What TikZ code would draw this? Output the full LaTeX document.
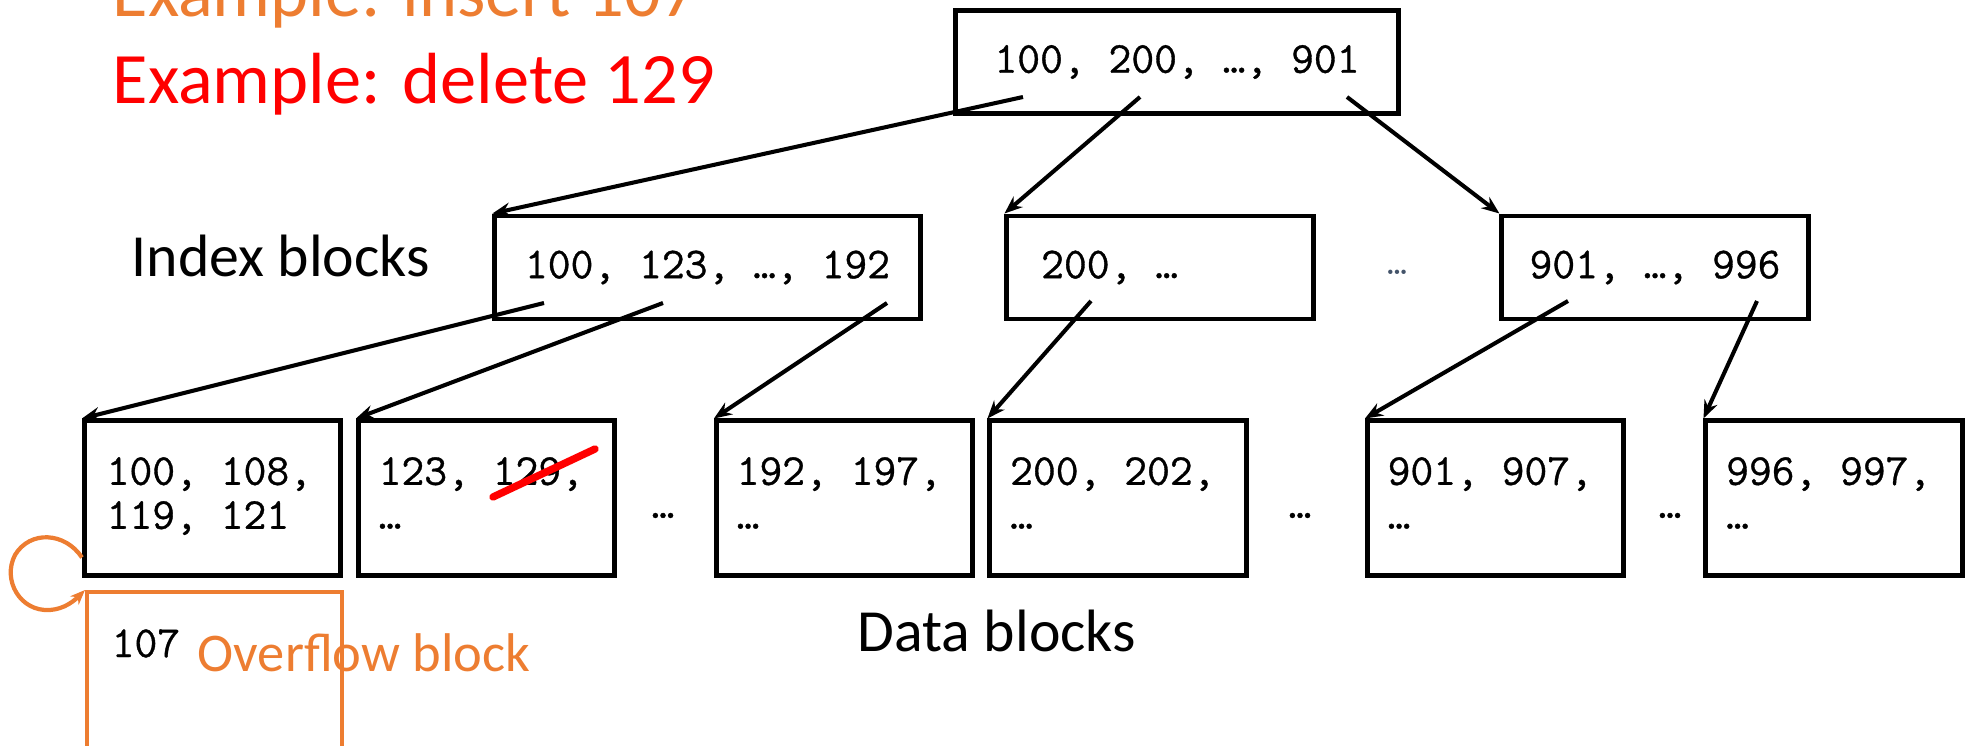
\documentclass[tikz,border=0pt]{standalone}
\usepackage{fontspec}
\setmainfont{Carlito}
\newfontfamily\keyfont[FakeBold=0.8]{Latin Modern Mono}
\usetikzlibrary{arrows.meta,calc}
\definecolor{ovorange}{HTML}{ED7D31}
\definecolor{dotgray}{HTML}{44546A}
\newcommand\dfont{\keyfont\fontsize{12.6}{12.5}\selectfont}
\newcommand\titlefont{\rmfamily\fontsize{20.6}{24}\selectfont}
\newcommand\labelfont{\rmfamily\fontsize{17}{20}\selectfont}
\begin{document}
\begin{tikzpicture}[x=0.01cm,y=-0.01cm,
  blk/.style={draw, line width=1.4pt, inner sep=0pt, font=\dfont},
  ibox/.style={blk, minimum height=1.03cm},
  dbox/.style={blk, minimum width=2.56cm, minimum height=1.54cm},
  dtext/.style={font=\dfont, align=left, inner sep=0pt, anchor=west},
  dots/.style={font=\dfont, inner sep=0pt, anchor=base},
  link/.style={line width=1.15pt, -{Stealth[length=0.18cm,width=0.14cm,inset=0.06cm]}},
  lbl/.style={anchor=base west, inner sep=0pt}]
\useasboundingbox (0,0) rectangle (1969,746);
\clip (0,0) rectangle (1969,746);

% titles
\node[lbl, text=ovorange, font=\titlefont] (ex1) at (112,17) {Example: insert 107};
\node[lbl, text=red, font=\titlefont] (ex2) at (112,104) {Example: delete 129};

% root
\node[ibox, minimum width=4.42cm] (root) at (1177,62) {100, 200, …, 901};

% index blocks
\node[lbl, font=\labelfont] (ilabel) at (131,277) {Index blocks};
\node[ibox, minimum width=4.25cm] (i1) at (707.5,267.5) {100, 123, …, 192};
\node[ibox, minimum width=3.06cm] (i2) at (1160,267.5) {};
\node[dtext] (i2t) at ($(i2.west)+(36,0)$) {200, …};
\node[dots, text=dotgray, font=\ttfamily\fontsize{11}{11}\selectfont] (idots) at (1397,275) {…};
\node[ibox, minimum width=3.06cm] (i3) at (1655,267.5) {901, …, 996};

% data blocks
\node[dbox] (d1) at (212.5,498) {};
\node[dbox] (d2) at (486.5,498) {};
\node[dbox] (d3) at (844.5,498) {};
\node[dbox] (d4) at (1118,498) {};
\node[dbox] (d5) at (1495.5,498) {};
\node[dbox] (d6) at (1834,498) {};
\node[dtext] (d1t) at ($(d1.west)+(24,0)$) {100, 108,\strut\\119, 121\strut};
\node[dtext] (d2t) at ($(d2.west)+(22,0)$) {123, 129,\strut\\…\strut};
\node[dtext] (d3t) at ($(d3.west)+(22,0)$) {192, 197,\strut\\…\strut};
\node[dtext] (d4t) at ($(d4.west)+(22,0)$) {200, 202,\strut\\…\strut};
\node[dtext] (d5t) at ($(d5.west)+(22,0)$) {901, 907,\strut\\…\strut};
\node[dtext] (d6t) at ($(d6.west)+(22,0)$) {996, 997,\strut\\…\strut};
\node[dots] (dd1) at (663,518) {…};
\node[dots] (dd2) at (1300,518) {…};
\node[dots] (dd3) at (1670,518) {…};
\node[lbl, font=\labelfont] (dlabel) at (857,652) {Data blocks};

% strike-through of 129
\coordinate (s1) at (493,497);
\coordinate (s2) at (595,449);
\draw[red, line width=2.1pt, line cap=round] (s1) -- (s2);

% overflow block
\node[draw=ovorange, line width=1.2pt, minimum width=2.55cm, minimum height=1.75cm, inner sep=0pt, anchor=north west] (ov) at (85,590) {};
\node[lbl, font=\dfont] (ovt) at (111,657) {107};
\node[lbl, text=ovorange, font=\fontsize{15.5}{18}\selectfont] (ovl) at (197,672) {Overflow block};
\coordinate (lp) at ($(d1.south west)+(0,-20)$);
\draw[ovorange, line width=1.2pt, -{Stealth[length=0.15cm,width=0.12cm,inset=0.05cm]}]
  (lp) .. controls (65,532) and (30,530) .. (15,555)
       .. controls (2,580) and (20,612) .. (50,610)
       .. controls (65,609) and (75,600) .. (ov.north west);

% pointers
\coordinate (r1) at (1023,97);
\coordinate (r2) at (1140,97);
\coordinate (r3) at (1347,97);
\coordinate (p1) at (544,303);
\coordinate (p2) at (663,303);
\coordinate (p3) at (887,303);
\coordinate (p4) at (1091,301);
\coordinate (p5) at (1568,301);
\coordinate (p6) at (1757,301);
\draw[link] (r1) -- (i1.north west);
\draw[link] (r2) -- (i2.north west);
\draw[link] (r3) -- (i3.north west);
\draw[link] (p1) -- (d1.north west);
\draw[link] (p2) -- (d2.north west);
\draw[link] (p3) -- (d3.north west);
\draw[link] (p4) -- (d4.north west);
\draw[link] (p5) -- (d5.north west);
\draw[link] (p6) -- (d6.north west);
\end{tikzpicture}
\end{document}
